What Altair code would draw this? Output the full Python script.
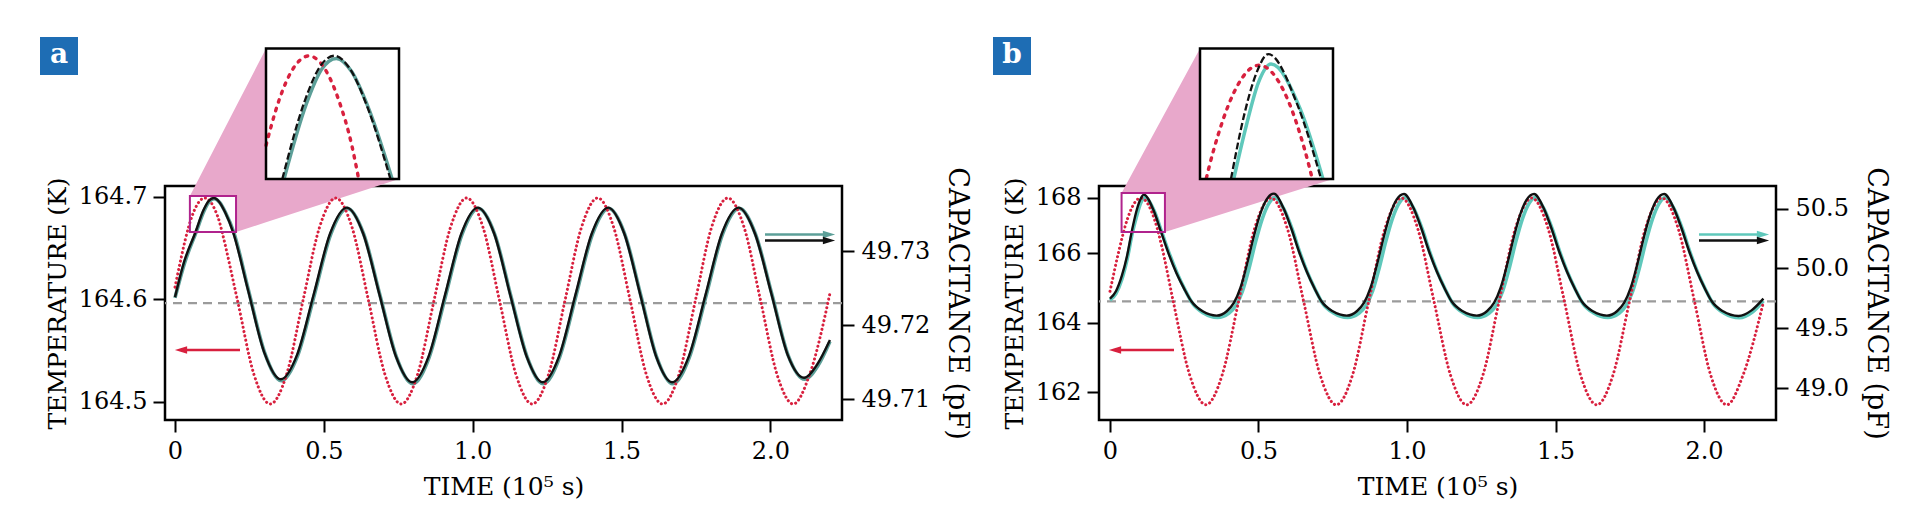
import altair as alt
import pandas as pd

FONT = "DejaVu Serif"
RED = "#d8203e"
BLACK = "#111111"
GRAY = "#9b9b9b"
PINK = "#e8a8cb"
MAGENTA = "#b0238d"
BLUE = "#1e6db4"

# ---------------- Panel a data ----------------
ta_red = [0.000, 0.045, 0.050, 0.065, 0.080, 0.100, 0.120, 0.135, 0.150, 0.158, 0.210, 0.265,
          0.320, 0.375, 0.430, 0.485, 0.540, 0.595, 0.650, 0.705, 0.760, 0.815, 0.870,
          0.925, 0.980, 1.035, 1.090, 1.145, 1.200, 1.255, 1.310, 1.365, 1.420, 1.474,
          1.529, 1.583, 1.638, 1.693, 1.748, 1.802, 1.857, 1.912, 1.967, 2.022, 2.077,
          2.132, 2.200]
Ta_red = [164.612, 164.670, 164.675, 164.687, 164.695, 164.699, 164.695, 164.687, 164.675,
          164.666, 164.599, 164.527, 164.498, 164.527, 164.599, 164.670, 164.699, 164.670,
          164.599, 164.527, 164.498, 164.527, 164.599, 164.670, 164.699, 164.670, 164.599,
          164.527, 164.498, 164.527, 164.599, 164.670, 164.699, 164.670, 164.599, 164.527,
          164.498, 164.527, 164.599, 164.670, 164.699, 164.670, 164.599, 164.527, 164.498,
          164.527, 164.606]

ta_black = [0.000, 0.030, 0.069, 0.095, 0.113, 0.130, 0.148, 0.168, 0.195, 0.245, 0.300,
            0.355, 0.410, 0.466, 0.521, 0.577, 0.632, 0.687, 0.742, 0.797, 0.852, 0.907,
            0.962, 1.017, 1.072, 1.126, 1.181, 1.235, 1.290, 1.345, 1.400, 1.455, 1.509,
            1.563, 1.616, 1.670, 1.726, 1.782, 1.837, 1.893, 1.948, 2.003, 2.058, 2.113,
            2.157, 2.200]
Ca_black = [49.7238, 49.7285, 49.7326, 49.7355, 49.7368, 49.7372, 49.7367, 49.7353, 49.7326,
            49.7248, 49.7163, 49.7127, 49.7160, 49.7242, 49.7324, 49.7359, 49.7324, 49.7241,
            49.7158, 49.7123, 49.7158, 49.7241, 49.7324, 49.7359, 49.7324, 49.7241, 49.7158,
            49.7123, 49.7158, 49.7241, 49.7324, 49.7359, 49.7324, 49.7241, 49.7158, 49.7123,
            49.7158, 49.7241, 49.7324, 49.7359, 49.7324, 49.7243, 49.7160, 49.7129, 49.7147,
            49.7180]

ta_cyan = [0.000, 0.032, 0.071, 0.097, 0.115, 0.132, 0.150, 0.170, 0.197, 0.247, 0.302,
           0.357, 0.412, 0.468, 0.523, 0.579, 0.634, 0.689, 0.744, 0.799, 0.854, 0.909,
           0.964, 1.019, 1.074, 1.128, 1.183, 1.237, 1.292, 1.347, 1.402, 1.457, 1.511,
           1.565, 1.618, 1.672, 1.728, 1.784, 1.839, 1.895, 1.950, 2.005, 2.060, 2.115,
           2.159, 2.200]
Ca_cyan = [49.7237, 49.7284, 49.7326, 49.7354, 49.7367, 49.7371, 49.7366, 49.7352, 49.7326,
           49.7247, 49.7162, 49.7125, 49.7159, 49.7241, 49.7323, 49.7358, 49.7323, 49.7240,
           49.7157, 49.7121, 49.7157, 49.7240, 49.7323, 49.7358, 49.7323, 49.7240, 49.7157,
           49.7121, 49.7157, 49.7240, 49.7323, 49.7358, 49.7323, 49.7240, 49.7157, 49.7121,
           49.7157, 49.7240, 49.7323, 49.7358, 49.7323, 49.7242, 49.7159, 49.7127, 49.7145,
           49.7178]
gray_a = 49.7230
window_a = {"t0": 0.050, "t1": 0.205, "T0": 164.666, "T1": 164.701, "c0": 49.7326, "c1": 49.73747}

# ---------------- Panel b data ----------------
tb_red = [0.000, 0.030, 0.046, 0.049, 0.059, 0.076, 0.104, 0.132, 0.149, 0.159, 0.162,
          0.175, 0.213, 0.268, 0.323, 0.378, 0.433, 0.487, 0.542, 0.597, 0.652, 0.707,
          0.762, 0.817, 0.871, 0.926, 0.981, 1.036, 1.091, 1.146, 1.201, 1.256, 1.310,
          1.365, 1.420, 1.475, 1.530, 1.584, 1.639, 1.694, 1.749, 1.803, 1.858, 1.913,
          1.968, 2.022, 2.077, 2.132, 2.200]
Tb_red = [164.90, 166.08, 166.77, 166.89, 167.24, 167.69, 167.99, 167.69, 167.24, 166.89,
          166.77, 166.21, 164.61, 162.50, 161.63, 162.50, 164.61, 166.89, 167.99, 166.89,
          164.61, 162.50, 161.63, 162.50, 164.61, 166.89, 167.99, 166.89, 164.61, 162.50,
          161.63, 162.50, 164.61, 166.89, 167.99, 166.89, 164.61, 162.50, 161.63, 162.50,
          164.61, 166.89, 167.99, 166.89, 164.61, 162.50, 161.63, 162.50, 164.59]

tb_black = [0.000, 0.020, 0.040, 0.057, 0.073, 0.088, 0.101, 0.114, 0.146, 0.172, 0.198,
            0.224, 0.250, 0.274, 0.312, 0.359, 0.394, 0.417, 0.439, 0.461, 0.483, 0.505,
            0.527, 0.552, 0.584, 0.610, 0.636, 0.662, 0.688, 0.712, 0.750, 0.797, 0.832,
            0.855, 0.877, 0.899, 0.921, 0.943, 0.965, 0.990, 1.022, 1.048, 1.074, 1.100,
            1.126, 1.150, 1.188, 1.235, 1.270, 1.293, 1.315, 1.337, 1.359, 1.381, 1.403,
            1.428, 1.460, 1.486, 1.512, 1.538, 1.564, 1.588, 1.626, 1.673, 1.708, 1.731,
            1.753, 1.775, 1.797, 1.819, 1.841, 1.866, 1.898, 1.924, 1.950, 1.976, 2.002,
            2.026, 2.064, 2.116, 2.160, 2.200]
Cb_black = [49.748, 49.81, 49.94, 50.10, 50.305, 50.47, 50.57, 50.617, 50.49, 50.305, 50.12,
            49.96, 49.83, 49.726, 49.642, 49.606, 49.645, 49.712, 49.837, 50.032, 50.255,
            50.449, 50.575, 50.625, 50.505, 50.338, 50.144, 49.977, 49.837, 49.726, 49.642,
            49.606, 49.645, 49.712, 49.837, 50.032, 50.255, 50.449, 50.575, 50.622, 50.505,
            50.338, 50.144, 49.977, 49.837, 49.726, 49.642, 49.606, 49.645, 49.712, 49.837,
            50.032, 50.255, 50.449, 50.575, 50.622, 50.505, 50.338, 50.144, 49.977, 49.837,
            49.726, 49.642, 49.606, 49.645, 49.712, 49.837, 50.032, 50.255, 50.449, 50.575,
            50.622, 50.505, 50.338, 50.144, 49.977, 49.837, 49.726, 49.642, 49.603, 49.650,
            49.748]

tb_cyan = [0.000, 0.020, 0.040, 0.057, 0.076, 0.090, 0.103, 0.117, 0.149, 0.174, 0.201,
           0.227, 0.253, 0.277, 0.315, 0.362, 0.401, 0.424, 0.446, 0.468, 0.490, 0.512,
           0.534, 0.555, 0.587, 0.613, 0.639, 0.665, 0.691, 0.715, 0.753, 0.800, 0.839,
           0.862, 0.884, 0.906, 0.928, 0.950, 0.972, 0.993, 1.025, 1.051, 1.077, 1.103,
           1.129, 1.153, 1.191, 1.238, 1.277, 1.300, 1.322, 1.344, 1.366, 1.388, 1.410,
           1.431, 1.463, 1.489, 1.515, 1.541, 1.567, 1.591, 1.629, 1.676, 1.715, 1.738,
           1.760, 1.782, 1.804, 1.826, 1.848, 1.869, 1.901, 1.927, 1.953, 1.979, 2.005,
           2.029, 2.067, 2.119, 2.163, 2.200]
Cb_cyan = [49.735, 49.79, 49.91, 50.07, 50.305, 50.44, 50.545, 50.592, 50.48, 50.305, 50.115,
           49.955, 49.82, 49.712, 49.628, 49.591, 49.628, 49.692, 49.81, 50.00, 50.22, 50.41,
           50.54, 50.592, 50.49, 50.33, 50.135, 49.965, 49.825, 49.712, 49.628, 49.591,
           49.628, 49.692, 49.81, 50.00, 50.22, 50.41, 50.54, 50.592, 50.49, 50.33, 50.135,
           49.965, 49.825, 49.712, 49.628, 49.591, 49.628, 49.692, 49.81, 50.00, 50.22, 50.41,
           50.54, 50.592, 50.49, 50.33, 50.135, 49.965, 49.825, 49.712, 49.628, 49.591, 49.628,
           49.692, 49.81, 50.00, 50.22, 50.41, 50.54, 50.592, 50.49, 50.33, 50.135, 49.965,
           49.825, 49.712, 49.628, 49.588, 49.636, 49.73]
gray_b = 49.726
window_b = {"t0": 0.039, "t1": 0.185, "T0": 166.76, "T1": 168.17, "c0": 50.305, "c1": 50.631}

# ---------------- layout constants ----------------
W, H = 677, 234
IX0, IX1, IY0, IY1 = 101, 234, -137.5, -7   # inset box, relative to plot origin
ONE = pd.DataFrame({"d": [0]})
RIGHT_HEAD = "M-1,-0.6L1,0L-1,0.6Z"
LEFT_HEAD = "M1,-0.6L-1,0L1,0.6Z"


def make_panel(letter, box_x0, t_red, T_red, t_blk, C_blk, t_cyn, C_cyn, gray_c,
               xdom, Tdom, Trange, cdom, Tticks, Tfmt, cticks, cfmt, win, cyan_col):
    red = pd.DataFrame({"t": t_red, "v": T_red})
    blk = pd.DataFrame({"t": t_blk, "v": C_blk})
    cyn = pd.DataFrame({"t": t_cyn, "v": C_cyn})

    xs = alt.Scale(domain=xdom, nice=False, zero=False)
    Ts = alt.Scale(domain=Tdom, range=Trange, nice=False, zero=False)
    cs = alt.Scale(domain=cdom, nice=False, zero=False)

    x_axis = alt.Axis(values=[0, 0.5, 1, 1.5, 2],
                      labelExpr="datum.value == 0 ? '0' : format(datum.value, '.1f')",
                      title="TIME (10\u2075 s)", labelPadding=7, titlePadding=11)
    left_axis = alt.Axis(values=Tticks, format=Tfmt, title="TEMPERATURE (K)",
                         orient="left", labelPadding=6, titlePadding=8)
    right_axis = alt.Axis(values=cticks, format=cfmt, title="CAPACITANCE (pF)",
                          orient="right", labelPadding=7, titlePadding=13, titleFontSize=27)

    # pixel geometry of the zoom window (for the connector polygon)
    def px(t):
        return (t - xdom[0]) / (xdom[1] - xdom[0]) * W

    def py(c):
        return (cdom[1] - c) / (cdom[1] - cdom[0]) * H

    bx0, bx1 = px(win["t0"]), px(win["t1"])
    by0, by1 = py(win["c1"]), py(win["c0"])

    def yAB(x):
        return by0 + (x - bx0) / (IX0 - bx0) * (IY0 - by0)

    def yDC(x):
        return by1 + (x - bx1) / (IX1 - bx1) * (IY1 - by1)

    poly = pd.DataFrame({
        "px": [bx0, bx1, bx1 + 0.01, IX0, IX1],
        "py": [by0, yAB(bx1), yAB(bx1 + 0.01), IY0, IY1],
        "py2": [by0, by0, by1, yDC(IX0), IY1],
    })
    l_poly = alt.Chart(poly).mark_area(color=PINK, opacity=1).encode(
        x=alt.X("px:Q", scale=None), y=alt.Y("py:Q", scale=None), y2="py2:Q")

    l_gray = alt.Chart(pd.DataFrame({"v": [gray_c]})).mark_rule(
        color=GRAY, strokeWidth=2.2, strokeDash=[9, 6]).encode(
        y=alt.Y("v:Q", scale=cs, axis=None))

    l_cyan = alt.Chart(cyn).mark_line(color=cyan_col, strokeWidth=3.6, interpolate="monotone").encode(
        x=alt.X("t:Q", scale=xs, axis=None), y=alt.Y("v:Q", scale=cs, axis=None))

    l_red = alt.Chart(red).mark_line(color=RED, strokeWidth=3.0, strokeDash=[0.1, 4.3],
                                     strokeCap="round", interpolate="monotone").encode(
        x=alt.X("t:Q", scale=xs, axis=x_axis), y=alt.Y("v:Q", scale=Ts, axis=left_axis))

    l_black = alt.Chart(blk).mark_line(color=BLACK, strokeWidth=2.4, interpolate="monotone").encode(
        x=alt.X("t:Q", scale=xs, axis=None), y=alt.Y("v:Q", scale=cs, axis=right_axis))

    boxdf = pd.DataFrame({"t0": [win["t0"]], "t1": [win["t1"]], "c0": [win["c0"]], "c1": [win["c1"]]})
    l_box = alt.Chart(boxdf).mark_rect(fillOpacity=0, stroke=MAGENTA, strokeWidth=2).encode(
        x=alt.X("t0:Q", scale=xs, axis=None), x2="t1:Q",
        y=alt.Y("c0:Q", scale=cs, axis=None), y2="c1:Q")

    # arrows
    ay_r = 164
    l_arr = [
        alt.Chart(ONE).mark_rule(color=RED, strokeWidth=2.5).encode(
            x=alt.value(16), x2=alt.value(75), y=alt.value(ay_r)),
        alt.Chart(ONE).mark_point(shape=LEFT_HEAD, filled=True, size=150, color=RED, opacity=1).encode(
            x=alt.value(16), y=alt.value(ay_r)),
        alt.Chart(ONE).mark_rule(color=cyan_col, strokeWidth=2.5).encode(
            x=alt.value(600), x2=alt.value(664), y=alt.value(48.5)),
        alt.Chart(ONE).mark_point(shape=RIGHT_HEAD, filled=True, size=150, color=cyan_col, opacity=1).encode(
            x=alt.value(664), y=alt.value(48.5)),
        alt.Chart(ONE).mark_rule(color=BLACK, strokeWidth=2.5).encode(
            x=alt.value(600), x2=alt.value(664), y=alt.value(54.5)),
        alt.Chart(ONE).mark_point(shape=RIGHT_HEAD, filled=True, size=150, color=BLACK, opacity=1).encode(
            x=alt.value(664), y=alt.value(54.5)),
    ]

    # inset
    l_ibg = alt.Chart(ONE).mark_rect(fill="white").encode(
        x=alt.value(IX0), x2=alt.value(IX1), y=alt.value(IY0), y2=alt.value(IY1))
    l_iframe = alt.Chart(ONE).mark_rect(fillOpacity=0, stroke="black", strokeWidth=2.5).encode(
        x=alt.value(IX0), x2=alt.value(IX1), y=alt.value(IY0), y2=alt.value(IY1))
    xi = alt.Scale(domain=[win["t0"], win["t1"]], range=[IX0, IX1], nice=False, zero=False)
    Ti = alt.Scale(domain=[win["T0"], win["T1"]], range=[IY1, IY0], nice=False, zero=False)
    ci = alt.Scale(domain=[win["c0"], win["c1"]], range=[IY1, IY0], nice=False, zero=False)
    fT = (f"datum.t >= {win['t0']} && datum.t <= {win['t1']} && "
          f"datum.v >= {win['T0']} && datum.v <= {win['T1']}")
    fC = (f"datum.t >= {win['t0']} && datum.t <= {win['t1']} && "
          f"datum.v >= {win['c0']} && datum.v <= {win['c1']}")
    l_icyan = alt.Chart(cyn).transform_filter(fC).mark_line(
        color=cyan_col, strokeWidth=3.5, interpolate="monotone").encode(
        x=alt.X("t:Q", scale=xi, axis=None), y=alt.Y("v:Q", scale=ci, axis=None))
    l_ired = alt.Chart(red).transform_filter(fT).mark_line(
        color=RED, strokeWidth=3.4, strokeDash=[2.5, 6.5], strokeCap="round",
        interpolate="monotone").encode(
        x=alt.X("t:Q", scale=xi, axis=None), y=alt.Y("v:Q", scale=Ti, axis=None))
    l_iblack = alt.Chart(blk).transform_filter(fC).mark_line(
        color=BLACK, strokeWidth=2.3, strokeDash=[7, 3], interpolate="monotone").encode(
        x=alt.X("t:Q", scale=xi, axis=None), y=alt.Y("v:Q", scale=ci, axis=None))

    # panel letter
    l_lab_box = alt.Chart(ONE).mark_rect(fill=BLUE).encode(
        x=alt.value(box_x0), x2=alt.value(box_x0 + 38), y=alt.value(-149), y2=alt.value(-111))
    l_lab_txt = alt.Chart(ONE).mark_text(text=letter, color="white", font=FONT, fontSize=28,
                                         fontWeight="bold", align="center", baseline="middle").encode(
        x=alt.value(box_x0 + 19), y=alt.value(-131))

    layers = [l_poly, l_gray, l_cyan, l_red, l_black, l_box] + l_arr + \
             [l_ibg, l_icyan, l_ired, l_iblack, l_iframe, l_lab_box, l_lab_txt]
    return alt.layer(*layers).resolve_scale(x="independent", y="independent").properties(
        width=W, height=H)


panel_a = make_panel(
    "a", -125, ta_red, Ta_red, ta_black, Ca_black, ta_cyan, Ca_cyan, gray_a,
    xdom=[-0.0336, 2.2405], Tdom=[164.4824, 164.7107], Trange=[H, 0],
    cdom=[49.70720, 49.73882], Tticks=[164.5, 164.6, 164.7], Tfmt=".1f",
    cticks=[49.71, 49.72, 49.73], cfmt=".2f", win=window_a, cyan_col="#5c9f98")

panel_b = make_panel(
    "b", -106, tb_red, Tb_red, tb_black, Cb_black, tb_cyan, Cb_cyan, gray_b,
    xdom=[-0.0370, 2.2424], Tdom=[161.192, 162, 164, 166, 168, 168.423],
    Trange=[234, 206, 136.7, 67, 11.7, 0],
    cdom=[48.7343, 50.689], Tticks=[162, 164, 166, 168], Tfmt="d",
    cticks=[49.0, 49.5, 50.0, 50.5], cfmt=".1f", win=window_b, cyan_col="#5fc8bb")

chart = alt.hconcat(panel_a, panel_b, spacing=257, bounds="flush").configure_view(
    stroke="black", strokeWidth=2.5
).configure_axis(
    domain=False, grid=False, tickColor="black", tickWidth=2, tickSize=12,
    labelColor="black", labelFont=FONT, labelFontSize=24,
    titleFont=FONT, titleFontSize=25, titleFontWeight="normal", titleColor="black"
).properties(
    padding={"left": 30, "top": 27, "right": 5, "bottom": 5},
    background="white"
)

chart.save("out.html", embed_options={"renderer": "svg", "actions": False})
